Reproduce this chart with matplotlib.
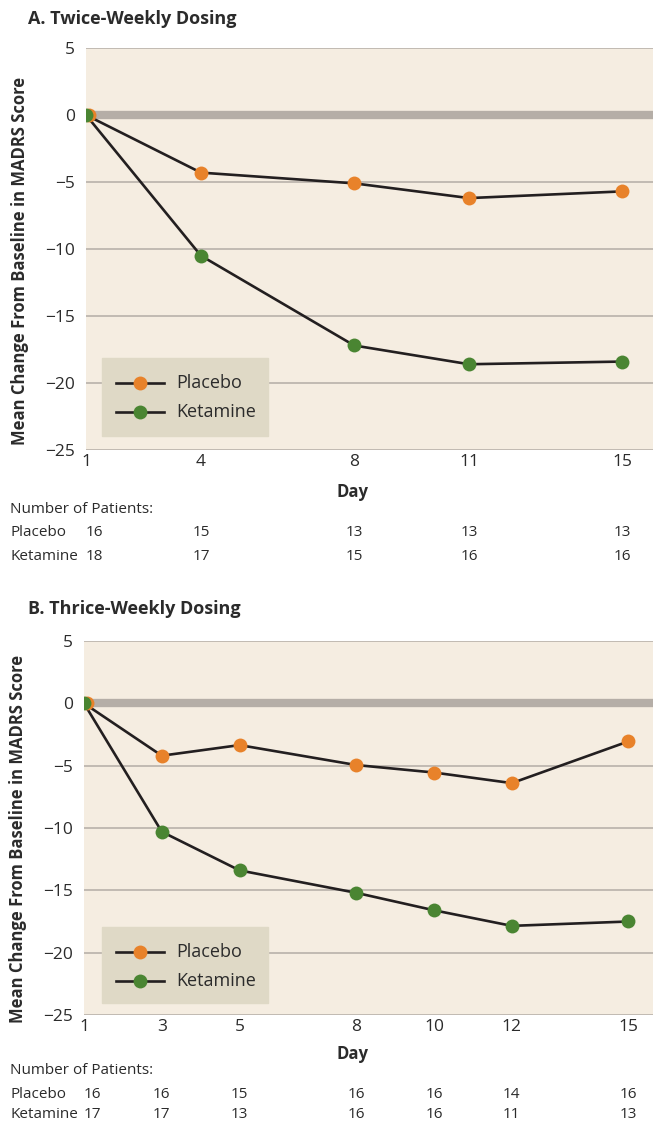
import matplotlib
matplotlib.use("Agg")
import matplotlib.pyplot as plt
import matplotlib.transforms as mtransforms
from matplotlib.lines import Line2D

plt.rcParams['font.family'] = ['Open Sans', 'DejaVu Sans']

# ---- Data ----
days_a = [1, 4, 8, 11, 15]
placebo_a = [0, -4.3, -5.1, -6.2, -5.7]
ketamine_a = [0, -10.5, -17.2, -18.6, -18.4]
n_placebo_a = [16, 15, 13, 13, 13]
n_ketamine_a = [18, 17, 15, 16, 16]

days_b = [1, 3, 5, 8, 10, 12, 15]
placebo_b = [0, -4.2, -3.35, -4.95, -5.55, -6.4, -3.05]
ketamine_b = [0, -10.3, -13.4, -15.2, -16.6, -17.85, -17.5]
n_placebo_b = [16, 16, 15, 16, 16, 14, 16]
n_ketamine_b = [17, 17, 13, 16, 16, 11, 13]

yticks = [5, 0, -5, -10, -15, -20, -25]
series_names = ["Placebo", "Ketamine"]

ORANGE = "#e8822a"
GREEN = "#4a8532"
LINE = "#231f20"
BG = "#f5ede1"
GRID = "#b8b1aa"
ZERO = "#b5aea7"
LEG = "#dfd9c6"
TXT = "#2b2b2b"

W, H = 653, 1126
fig = plt.figure(figsize=(W / 100, H / 100), dpi=100)


def fx(px):
    return px / W


def fy(py):
    return 1 - py / H


def panel(title, title_y, ax_box, days, plc, ket, npl, nke, xmax,
          leg_box, day_y, nop_y, row1_y, row2_y):
    x0, y0, x1, y1 = ax_box  # pixel coords: left, top, right, bottom
    ax = fig.add_axes([fx(x0), fy(y1), fx(x1 - x0), (y1 - y0) / H])
    ax.set_facecolor(BG)
    ax.set_xlim(1, xmax)
    ax.set_ylim(-25, 5)
    for s in ax.spines.values():
        s.set_visible(False)
    for yv in yticks:
        if yv != 0:
            ax.axhline(yv, color=GRID, lw=1.2, zorder=1)
    ax.axhline(0, color=ZERO, lw=6, zorder=1)
    ax.set_yticks(yticks)
    ax.set_yticklabels(["5", "0", "\u22125", "\u221210", "\u221215", "\u221220", "\u221225"])
    ax.set_xticks(days)
    ax.set_xticklabels([str(d) for d in days])
    ax.tick_params(length=0, labelsize=12.5, colors=TXT, pad=8)
    ax.tick_params(axis='x', pad=3)

    off = mtransforms.offset_copy(ax.transData, fig=fig, x=3, y=0, units='dots')
    ax.plot(days, plc, color=LINE, lw=1.9, zorder=3)
    ax.plot(days, ket, color=LINE, lw=1.9, zorder=3)
    ax.plot(days[:1], plc[:1], 'o', color=ORANGE, ms=10, mec='none', zorder=4, transform=off)
    ax.plot(days[1:], plc[1:], 'o', color=ORANGE, ms=10, mec='none', zorder=4)
    ax.plot(days, ket, 'o', color=GREEN, ms=10, mec='none', zorder=5)

    # legend box
    lx0, ly0, lx1, ly1 = leg_box
    ax.add_patch(plt.Rectangle((fx(lx0), fy(ly1)), fx(lx1 - lx0), (ly1 - ly0) / H,
                               transform=fig.transFigure, color=LEG, zorder=6))
    for i, (name, col) in enumerate(zip(series_names, [ORANGE, GREEN])):
        yy = ly0 + 25 + i * 29
        fig.add_artist(Line2D([fx(lx0 + 14), fx(lx0 + 62)], [fy(yy), fy(yy)], color=LINE, lw=1.9, zorder=7))
        fig.add_artist(Line2D([fx(lx0 + 38)], [fy(yy)], marker='o', color=col, ms=10, mec='none', zorder=8))
        fig.text(fx(lx0 + 74), fy(yy), name, fontsize=13, color=TXT, va='center', ha='left', zorder=9)

    fig.text(fx(28), fy(title_y), title, fontsize=13, fontweight='bold', color=TXT, va='center', ha='left')
    ax.set_ylabel("Mean Change From Baseline in MADRS Score", fontsize=12, fontweight='bold', color=TXT)
    ax.yaxis.set_label_coords(-0.101, 0.47)
    fig.text(fx(353), fy(day_y), "Day", fontsize=12, fontweight='bold', color=TXT, ha='center', va='center')

    # patient counts
    fs = 11
    fig.text(fx(10), fy(nop_y), "Number of Patients:", fontsize=fs, color=TXT, va='center', ha='left')
    fig.text(fx(10), fy(row1_y), "Placebo", fontsize=fs, color=TXT, va='center', ha='left')
    fig.text(fx(10), fy(row2_y), "Ketamine", fontsize=fs, color=TXT, va='center', ha='left')
    tr = mtransforms.blended_transform_factory(ax.transData, fig.transFigure)
    for i, d in enumerate(days):
        ha = 'left' if i == 0 else 'center'
        fig.text(d, fy(row1_y), str(npl[i]), fontsize=fs, color=TXT, va='center', ha=ha, transform=tr)
        fig.text(d, fy(row2_y), str(nke[i]), fontsize=fs, color=TXT, va='center', ha=ha, transform=tr)
    return ax


panel("A. Twice-Weekly Dosing", 19, (86, 48, 653, 450), days_a, placebo_a, ketamine_a,
      n_placebo_a, n_ketamine_a, 15.8, (102, 358, 268, 436), 492, 509, 533, 557)
panel("B. Thrice-Weekly Dosing", 609, (84, 641, 653, 1015), days_b, placebo_b, ketamine_b,
      n_placebo_b, n_ketamine_b, 15.63, (102, 927, 268, 1003), 1054, 1071, 1095, 1115)

fig.savefig("out.png", dpi=100, facecolor="white")
